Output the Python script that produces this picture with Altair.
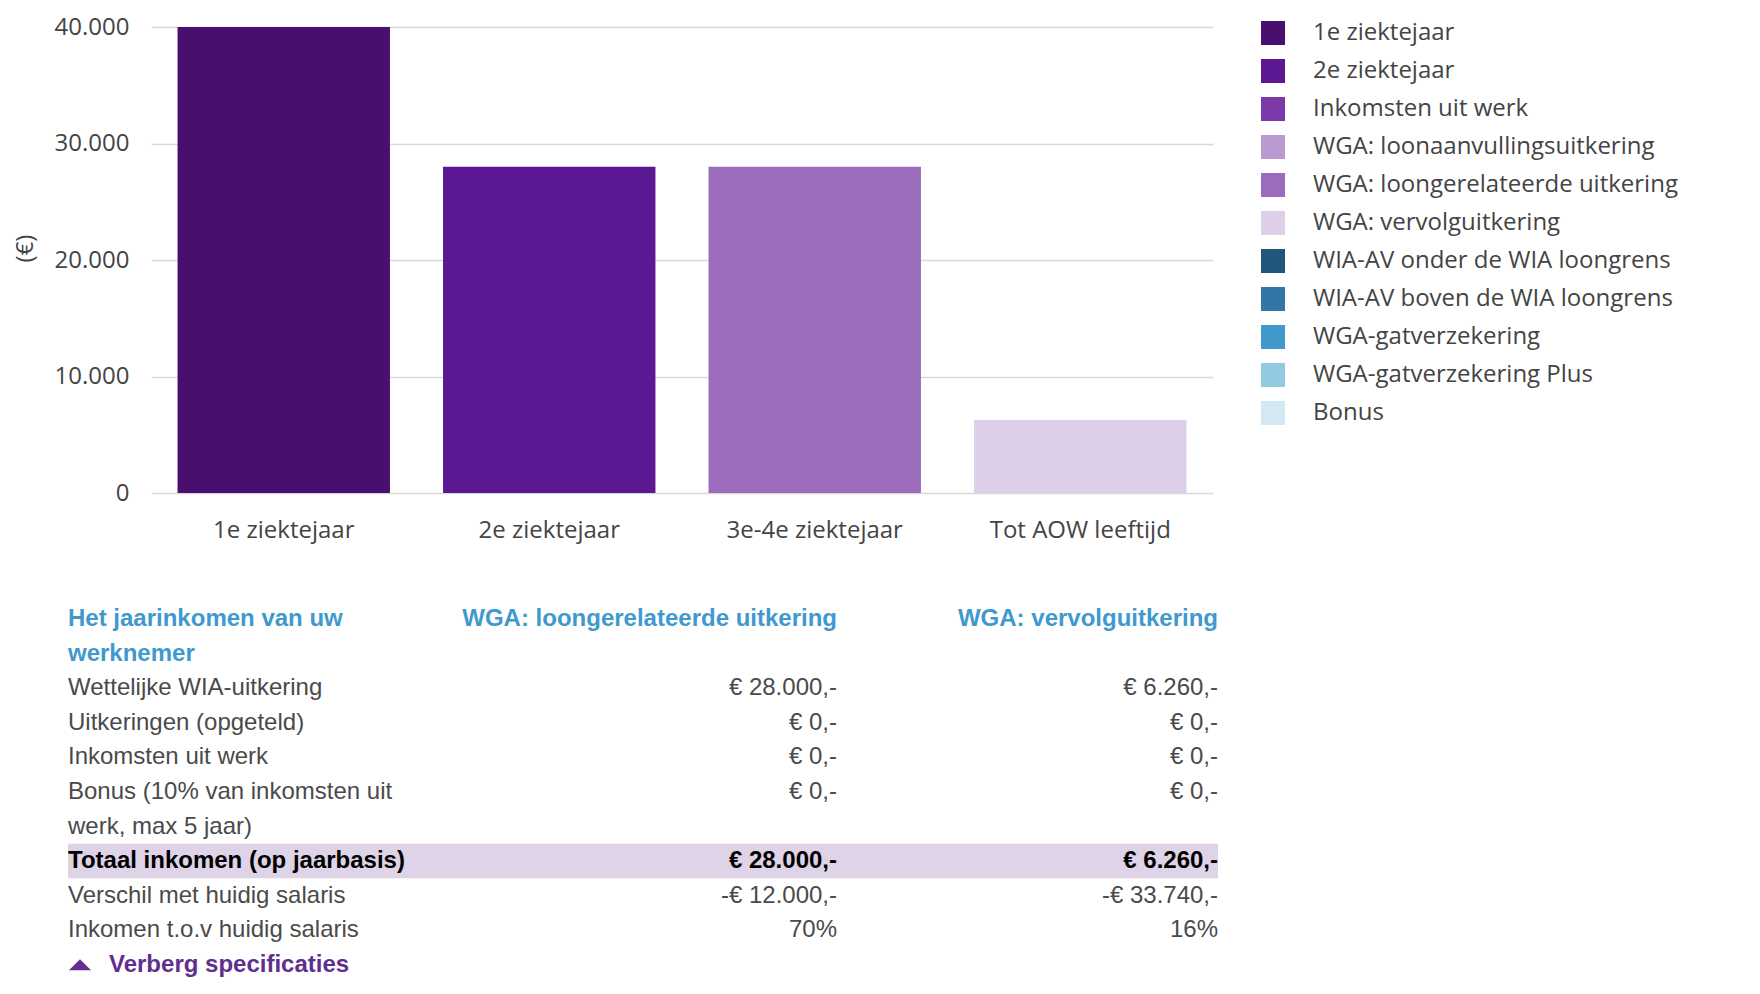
import altair as alt
import pandas as pd

# ---------------- data ----------------
periods = ["1e ziektejaar", "2e ziektejaar", "3e-4e ziektejaar", "Tot AOW leeftijd"]
values = [40000, 28000, 28000, 6260]
components = ["1e ziektejaar", "2e ziektejaar", "WGA: loongerelateerde uitkering", "WGA: vervolguitkering"]

legend_labels = [
    "1e ziektejaar", "2e ziektejaar", "Inkomsten uit werk",
    "WGA: loonaanvullingsuitkering", "WGA: loongerelateerde uitkering",
    "WGA: vervolguitkering", "WIA-AV onder de WIA loongrens",
    "WIA-AV boven de WIA loongrens", "WGA-gatverzekering",
    "WGA-gatverzekering Plus", "Bonus",
]
legend_colors = [
    "#4a0f6e", "#5b1892", "#7b3aa7", "#bb9ad2", "#9a6cbb", "#ddcfe8",
    "#22567a", "#3276a8", "#4198cb", "#93c9e3", "#d2e8f3",
]
y_ticks = [0, 10000, 20000, 30000, 40000]

table_col1 = [
    "Het jaarinkomen van uw", "werknemer", "Wettelijke WIA-uitkering",
    "Uitkeringen (opgeteld)", "Inkomsten uit werk", "Bonus (10% van inkomsten uit",
    "werk, max 5 jaar)", "Totaal inkomen (op jaarbasis)", "Verschil met huidig salaris",
    "Inkomen t.o.v huidig salaris", "Verberg specificaties",
]
table_col2 = [
    "WGA: loongerelateerde uitkering", "", "€ 28.000,-", "€ 0,-", "€ 0,-", "€ 0,-",
    "", "€ 28.000,-", "-€ 12.000,-", "70%", "",
]
table_col3 = [
    "WGA: vervolguitkering", "", "€ 6.260,-", "€ 0,-", "€ 0,-", "€ 0,-",
    "", "€ 6.260,-", "-€ 33.740,-", "16%", "",
]
table_style = [
    "header", "header", "normal", "normal", "normal", "normal",
    "normal", "total", "normal", "normal", "link",
]

# ---------------- bar chart ----------------
bar_df = pd.DataFrame({"period": periods, "value": values, "component": components})

AX_FONT = "Open Sans"
TXT = "#444444"

bars = alt.Chart(bar_df).mark_bar().encode(
    x=alt.X(
        "period:N", sort=periods, title=None,
        scale=alt.Scale(paddingInner=0.2, paddingOuter=0.1),
        axis=alt.Axis(labelAngle=0, ticks=False, domain=False, grid=False,
                      labelPadding=25, labelFontSize=24, labelFont=AX_FONT,
                      labelColor=TXT, labelLimit=0),
    ),
    y=alt.Y(
        "value:Q", title="(€)",
        scale=alt.Scale(domain=[0, 40000], nice=False),
        axis=alt.Axis(values=y_ticks, ticks=False, domain=False,
                      labelExpr="replace(format(datum.value, ',d'), ',', '.')",
                      labelPadding=22, labelFontSize=24, labelFont=AX_FONT,
                      labelColor=TXT, gridColor="#d9d9d9", gridWidth=1.5,
                      titleFontSize=24, titleFont=AX_FONT, titleFontWeight="normal",
                      titleColor=TXT, titleX=-126, titleY=221, titleAngle=270,
                      titleAlign="center", titleBaseline="middle"),
    ),
    color=alt.Color(
        "component:N",
        scale=alt.Scale(domain=legend_labels, range=legend_colors),
        legend=alt.Legend(title=None, orient="none", legendX=1110, legendY=-6,
                          padding=0,
                          symbolType="square", symbolSize=576, symbolStrokeWidth=0,
                          symbolOpacity=1, labelFontSize=24, labelFont=AX_FONT,
                          labelColor=TXT, rowPadding=14, labelOffset=28,
                          labelLimit=0),
    ),
).properties(width=1062, height=466)

# ---------------- table ----------------
tab_df = pd.DataFrame({
    "line": list(range(len(table_col1))),
    "c1": table_col1, "c2": table_col2, "c3": table_col3, "style": table_style,
})

yenc = alt.Y("line:O", axis=None,
             scale=alt.Scale(type="band", domain=list(range(len(table_col1))),
                             paddingInner=0, paddingOuter=0))

base = alt.Chart(tab_df)

highlight = base.transform_filter(alt.datum.style == "total").mark_rect(
    color="#ded3e7"
).encode(y=yenc, x=alt.value(-83), x2=alt.value(1067))

styles = {
    "header": dict(color="#3f99cf", fontWeight="bold"),
    "normal": dict(color="#4a4a4a", fontWeight="normal"),
    "total": dict(color="#000000", fontWeight="bold"),
    "link": dict(color="#5f2e8e", fontWeight="bold"),
}

layers = [highlight]
for st, props in styles.items():
    sub = base.transform_filter(alt.datum.style == st)
    x1 = -42 if st == "link" else -83
    layers.append(sub.mark_text(align="left", baseline="middle", fontSize=24,
                                font="Liberation Sans", **props)
                  .encode(y=yenc, text="c1:N", x=alt.value(x1)))
    layers.append(sub.mark_text(align="right", baseline="middle", fontSize=24,
                                font="Liberation Sans", **props)
                  .encode(y=yenc, text="c2:N", x=alt.value(686)))
    layers.append(sub.mark_text(align="right", baseline="middle", fontSize=24,
                                font="Liberation Sans", **props)
                  .encode(y=yenc, text="c3:N", x=alt.value(1067)))

triangle = base.transform_filter(alt.datum.style == "link").mark_point(
    shape="M-1,0.5L0,-0.5L1,0.5Z", filled=True, size=484, color="#5f2e8e", opacity=1
).encode(y=yenc, x=alt.value(-71))
layers.append(triangle)

table = alt.layer(*layers).properties(width=1062, height=380)

chart = alt.vconcat(bars, table, spacing=60).configure(
    padding={"left": 5, "top": 7, "right": 5, "bottom": 5}
).configure_view(stroke=None).configure_concat(spacing=60)

chart.save("out.html", embed_options={"renderer": "svg", "actions": False})
